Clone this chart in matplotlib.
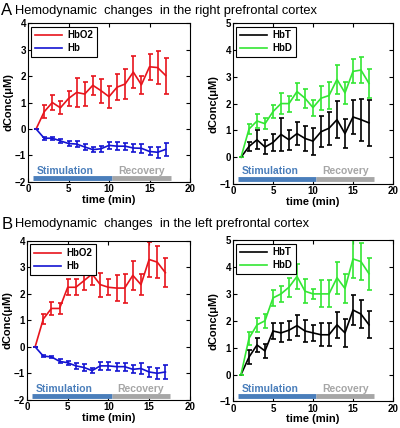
import matplotlib
matplotlib.use("Agg")
import matplotlib.pyplot as plt
from matplotlib.lines import Line2D

plt.rcParams['font.family'] = ['Liberation Sans', 'DejaVu Sans']

t = list(range(1, 18))

# Right prefrontal cortex
A_hbo2 = [0, 0.65, 1.0, 0.8, 1.15, 1.38, 1.32, 1.65, 1.45, 1.22, 1.58, 1.7, 2.15, 1.67, 2.35, 2.32, 2.02]
A_hbo2_err = [0, 0.25, 0.28, 0.25, 0.3, 0.55, 0.45, 0.35, 0.45, 0.42, 0.5, 0.55, 0.6, 0.35, 0.5, 0.62, 0.68]
A_hb = [0, -0.35, -0.35, -0.45, -0.55, -0.57, -0.68, -0.78, -0.75, -0.62, -0.65, -0.65, -0.72, -0.73, -0.85, -0.88, -0.77]
A_hb_err = [0, 0.06, 0.06, 0.08, 0.08, 0.12, 0.12, 0.1, 0.12, 0.12, 0.15, 0.13, 0.15, 0.17, 0.15, 0.2, 0.25]
A_hbd = [0, 1.05, 1.35, 1.25, 1.7, 2.0, 2.0, 2.45, 2.2, 1.85, 2.2, 2.3, 2.9, 2.4, 3.2, 3.25, 2.75]
A_hbd_err = [0, 0.2, 0.25, 0.2, 0.25, 0.4, 0.3, 0.3, 0.35, 0.3, 0.45, 0.5, 0.55, 0.4, 0.45, 0.5, 0.55]
A_hbt = [0, 0.4, 0.65, 0.38, 0.55, 0.85, 0.65, 0.88, 0.7, 0.6, 0.95, 1.08, 1.4, 0.88, 1.5, 1.4, 1.28]
A_hbt_err = [0, 0.15, 0.35, 0.25, 0.3, 0.62, 0.38, 0.42, 0.48, 0.5, 0.58, 0.62, 0.68, 0.55, 0.62, 0.78, 0.85]

# Left prefrontal cortex
B_hbo2 = [0, 1.05, 1.45, 1.45, 2.25, 2.25, 2.5, 2.75, 2.35, 2.25, 2.22, 2.22, 2.7, 2.35, 3.3, 3.2, 2.8]
B_hbo2_err = [0, 0.2, 0.25, 0.2, 0.3, 0.3, 0.35, 0.4, 0.45, 0.3, 0.5, 0.55, 0.55, 0.4, 0.65, 0.6, 0.55]
B_hb = [0, -0.35, -0.38, -0.55, -0.6, -0.72, -0.78, -0.9, -0.72, -0.72, -0.75, -0.75, -0.85, -0.82, -0.95, -1.0, -0.95]
B_hb_err = [0, 0.05, 0.05, 0.08, 0.08, 0.1, 0.12, 0.1, 0.15, 0.15, 0.15, 0.15, 0.15, 0.2, 0.2, 0.2, 0.25]
B_hbd = [0, 1.35, 1.85, 2.0, 2.85, 3.0, 3.25, 3.65, 3.1, 3.0, 3.0, 3.0, 3.6, 3.2, 4.3, 4.2, 3.75]
B_hbd_err = [0, 0.25, 0.25, 0.25, 0.3, 0.3, 0.35, 0.45, 0.45, 0.2, 0.5, 0.5, 0.6, 0.55, 0.7, 0.7, 0.6]
B_hbt = [0, 0.65, 1.1, 0.88, 1.62, 1.55, 1.65, 1.82, 1.62, 1.55, 1.48, 1.48, 1.85, 1.55, 2.4, 2.25, 1.85]
B_hbt_err = [0, 0.25, 0.25, 0.25, 0.3, 0.35, 0.35, 0.4, 0.4, 0.3, 0.42, 0.42, 0.48, 0.52, 0.55, 0.52, 0.5]

stim_range = (0.65, 10.4)
rec_range = (10.4, 17.6)

fig = plt.figure(figsize=(4.0, 4.28), dpi=100)

BLUE_BAR = '#4a7ebb'
GRAY_BAR = '#a6a6a6'

def panel(rect, s1, e1, c1, l1, s2, e2, c2, l2, ylim, bar_y, txt_y):
    ax = fig.add_axes(rect)
    ax.errorbar(t, s1, yerr=e1, color=c1, lw=1.2, elinewidth=1.2, capsize=1.8, capthick=1.2)
    ax.errorbar(t, s2, yerr=e2, color=c2, lw=1.2, elinewidth=1.2, capsize=1.8, capthick=1.2)
    ax.plot(stim_range, [bar_y, bar_y], color=BLUE_BAR, lw=3.5, solid_capstyle='butt')
    ax.plot(rec_range, [bar_y, bar_y], color=GRAY_BAR, lw=3.5, solid_capstyle='butt')
    ax.text(1.1, txt_y, 'Stimulation', color=BLUE_BAR, fontsize=7.5, fontweight='bold', va='center')
    ax.text(11.1, txt_y, 'Recovery', color=GRAY_BAR, fontsize=7.5, fontweight='bold', va='center')
    ax.set_xlim(0, 20)
    ax.set_ylim(*ylim)
    ax.set_xticks([0, 5, 10, 15, 20])
    ax.set_yticks(list(range(ylim[0], ylim[1] + 1)))
    ax.tick_params(direction='in', top=True, right=True, length=3, labelsize=7, pad=1.5)
    for lab in ax.get_xticklabels() + ax.get_yticklabels():
        lab.set_fontweight('bold')
    ax.set_xlabel('time (min)', fontsize=8, fontweight='bold', labelpad=0.5)
    ax.set_ylabel('dConc(μM)', fontsize=8, fontweight='bold', labelpad=1)
    handles = [Line2D([], [], color=c1, lw=1.2), Line2D([], [], color=c2, lw=1.2)]
    leg = ax.legend(handles, [l1, l2], loc='upper left', prop={'weight': 'bold', 'size': 7}, frameon=True,
                    fancybox=False, edgecolor='black', handlelength=2.7, borderaxespad=0.35,
                    labelspacing=0.3, handletextpad=0.6, borderpad=0.4, framealpha=1)
    leg.get_frame().set_linewidth(0.8)
    for sp in ax.spines.values():
        sp.set_linewidth(0.8)
    return ax

panel([0.07, 0.575, 0.405, 0.371], A_hbo2, A_hbo2_err, '#e8141c', 'HbO2', A_hb, A_hb_err, '#1414d2', 'Hb', (-2, 4), -1.87, -1.6)
panel([0.5825, 0.57, 0.4, 0.376], A_hbt, A_hbt_err, 'black', 'HbT', A_hbd, A_hbd_err, '#33e633', 'HbD', (-1, 5), -0.8, -0.53)
panel([0.0675, 0.066, 0.407, 0.371], B_hbo2, B_hbo2_err, '#e8141c', 'HbO2', B_hb, B_hb_err, '#1414d2', 'Hb', (-2, 4), -1.87, -1.6)
panel([0.5825, 0.062, 0.4, 0.377], B_hbt, B_hbt_err, 'black', 'HbT', B_hbd, B_hbd_err, '#33e633', 'HbD', (-1, 5), -0.8, -0.53)

fig.text(0.003, 0.975, 'A', fontsize=12, va='center', ha='left')
fig.text(0.038, 0.975, 'Hemodynamic  changes  in the right prefrontal cortex', fontsize=9.3, va='center', ha='left')
fig.text(0.003, 0.476, 'B', fontsize=12, va='center', ha='left')
fig.text(0.038, 0.476, 'Hemodynamic  changes  in the left prefrontal cortex', fontsize=9.3, va='center', ha='left')

fig.savefig('out.png', dpi=100)
